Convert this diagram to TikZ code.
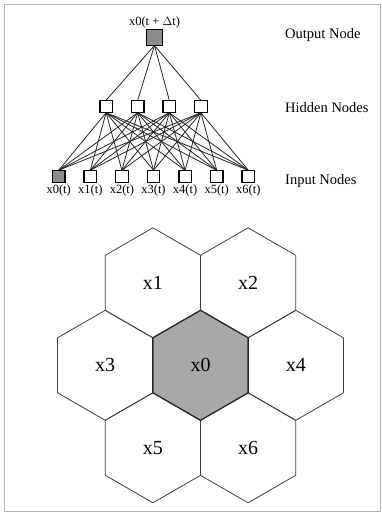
\documentclass[tikz,border=0pt]{standalone}
\usepackage{fontspec}
\setmainfont{Liberation Serif}
\usepackage{tikz}
\usetikzlibrary{shapes,calc,positioning}
\definecolor{cellgray}{HTML}{A8A8A8}
\definecolor{unitgray}{HTML}{8C8C8C}
\pgfdeclarelayer{back}
\pgfsetlayers{back,main}
\tikzstyle{link}  =[line width=0.8pt, draw=black!85]
\tikzstyle{unit}  =[rectangle, draw, minimum size=12.5pt,
                    line width=1.3pt, inner sep=0pt,
                    outer sep=0pt, fill=white]
\tikzstyle{cell}  =[regular polygon, regular polygon sides=6,
                    shape border rotate=30, minimum size=110pt,
                    draw=black!75, line width=0.8pt, inner sep=0pt,
                    font=\fontsize{20}{22}\selectfont]
\tikzstyle{tag}   =[inner sep=1pt, fill=none, draw=none,
                    font=\fontsize{12.5}{14}\selectfont]
\tikzstyle{layer} =[inner sep=0pt, anchor=west,
                    font=\fontsize{14.5}{16}\selectfont]

\begin{document}
\begin{tikzpicture}[x=1pt, y=-1pt]
            \useasboundingbox (0,0) rectangle (382,514);
            \draw[black!30, line width=1pt] (4,4) rectangle (380,511);
            \begin{scope}
                % network
                \node (o) [unit, minimum size=16pt, fill=unitgray] at (154.5,37.5) {};
                \node (ot) [tag, above=0pt of o] {x0(t + $\Delta$t)};
                \foreach \k/\x in {1/106.1, 2/137.7, 3/169.3, 4/200.9}
                    \node (h\k) [unit] at (\x,106.5) {};
                \foreach \i/\x in {0/58.7, 1/90.3, 2/121.9, 3/153.5, 4/185.1, 5/216.7, 6/248.3}
                {
                    \node (i\i) [unit] at (\x,176.5) {};
                    \node (t\i) [tag, below=1pt of i\i] {x\i(t)};
                }
                \node [unit, fill=unitgray] at (i0) {};
                \begin{pgfonlayer}{back}
                \foreach \k in {1,...,4}
                {
                    \draw[link] (o.south) -- (h\k.north);
                    \foreach \i in {0,...,6}
                        \draw[link] (h\k.south) -- (i\i.north);
                }
                \end{pgfonlayer}
                \node (lo) [layer] at (285,35) {Output Node};
                \node (lh) [layer] at (285,108) {Hidden Nodes};
                \node (li) [layer] at (285,181) {Input Nodes};
            \end{scope}
            \begin{scope}
                % cells
                \node (c1) [cell] at (152.9,282.8) {x1};
                \node (c2) [cell] at (248.1,282.8) {x2};
                \node (c3) [cell] at (105.2,365.3) {x3};
                \node (c4) [cell] at (295.8,365.3) {x4};
                \node (c5) [cell] at (152.9,447.8) {x5};
                \node (c6) [cell] at (248.1,447.8) {x6};
                \node (c0) [cell, fill=cellgray, draw=black!85, line width=1.3pt] at (200.5,365.3) {x0};
            \end{scope}
        \end{tikzpicture}
\end{document}
